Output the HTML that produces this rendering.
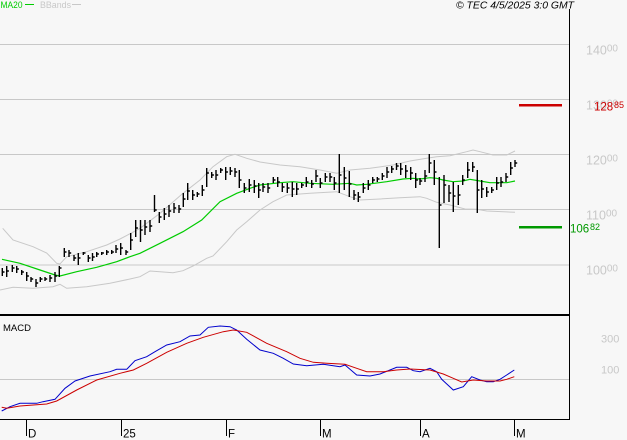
<!DOCTYPE html>
<html><head><meta charset="utf-8"><style>
html,body{margin:0;padding:0;background:#f7f7f7;}
svg{display:block;}
text{font-family:"Liberation Sans",sans-serif;}
</style></head><body>
<svg width="627" height="440" viewBox="0 0 627 440" xmlns="http://www.w3.org/2000/svg">
<rect x="0" y="0" width="627" height="440" fill="#f7f7f7"/>
<!-- grid -->
<g fill="#c8c8c8" shape-rendering="crispEdges">
<rect x="0" y="44" width="569" height="1"/>
<rect x="0" y="99" width="569" height="1"/>
<rect x="0" y="154" width="569" height="1"/>
<rect x="0" y="209" width="569" height="1"/>
<rect x="0" y="264.5" width="569" height="1"/>
<rect x="0" y="379" width="569" height="1"/>
</g>
<!-- bollinger bands -->
<g fill="none" stroke="#c8c8c8" stroke-width="1">
<polyline points="2.7,228.3 13,240 33,246.7 46.7,253 56.7,263.3 60,264 66.7,256.7 86.7,251.7 106.7,245 120,239 133.3,232 140,228.3 160,213.3 183,193.3 200,180 213,166.7 226.7,156.7 235,154.3 246.7,158.3 260,162 280,165 300,166.7 320,170 336.7,173.3 350,170 370,168.3 393,165 410,161 426.7,158.3 436.7,156.7 450,155.7 466.7,151.7 473,150 480,151.7 493,155 506.7,155 515,151"/>
<polyline points="0,290 13,287.3 33,288.3 53,286.7 60,284.3 66.7,288.3 86.7,286.7 110,283.3 130,279 140,276.7 150,271 160,271.7 173,272.7 183,270.7 193,266 206.7,258.3 213,256 226.7,241.7 236.7,230 246.7,221.7 260,210 273,201.7 280,198.3 286.7,195 310,193.3 336.7,191.7 350,196.7 360,200 380,199 400,197.7 420,196.7 426.7,198.3 436.7,202.3 450,205 465,209 476.7,209.3 486.7,211 515,212.3"/>
</g>
<!-- MA20 -->
<polyline fill="none" stroke="#00cc00" stroke-width="1.2" points="2,259.3 20,263.3 40,270 55,275 60,276 76.7,271.7 96.7,267.3 116.7,261.7 130,256.7 140,253.3 160,243.3 183,231.7 201.7,220 220,201.7 236.7,193.3 250,188.3 260,185 280,182.7 293,181.7 310,183.3 333,184.3 350,183.3 356.7,185 366.7,184.3 386.7,181.7 403,179 413,178.3 420,179 430,177.7 436.7,178.3 443,180 453,181.7 463,181 470,179.3 480,181 490,182.7 506.7,182.7 515,181"/>
<!-- price bars -->
<path fill="none" stroke="#000" stroke-width="1.4" d="M2.3 268V276M6.7 266V277M12.3 265V272M16.7 266V273M21.7 270V275M26.7 272V281M31 277V282M36 279V287M40.3 277V282M45 277V281M50 275V282M55 272V282M59.3 266V277M64.3 248V257M69 250V257M74 255V261M78.3 253V265M83.3 252V255M88.3 255V262M92.5 253V261M96.7 252V257M101.7 252V255M106.7 250V255M111.7 250V254M116 245V253M120.7 243V255M126 250V255M130.7 233V250M135.7 220V237M140.5 220V242M145 220V235M150 220V232M154.5 195V212M159.3 212V223M164.3 208V220M169 205V217M174 203V213M179 205V213M183.3 193V207M187.7 183V200M192.7 190V200M197.3 192V197M202.3 185V196M206.7 168V187M211.7 172V178M216 170V180M220.7 168V173M225.7 167V180M230.3 167V175M235 168V177M239.3 170V188M244.3 183V193M249.3 179V192M254.3 180V193M258.7 183V198M263 183V192M268 183V193M273.3 177V183M277.7 177V187M282.3 183V192M287.3 183V193M292.3 182V197M296.7 183V195M301.7 183V188M306.3 177V187M311.7 180V188M316 170V182M320.3 178V188M325.3 173V182M330 173V182M334.3 177V190M339.3 154V193M344.3 167V190M349.3 171V197M354 190V200M358.3 192V202M363.3 183V193M368.3 180V190M372.7 177V183M377.3 177V182M382.3 173V180M387 167V178M391.7 166V173M396.5 163V170M400.7 163V175M405.7 165V178M410.7 167V180M415.7 173V188M420 178V185M425 170V182M429.3 154V173M434.3 160V185M439.3 177V248M444 175V203M449 185V202M453.3 182V212M458.3 185V205M462.7 175V185M467.7 162V178M472.7 162V172M477.3 170V213M481.7 180V198M486.7 187V197M491.7 187V193M496.7 177V190M501 177V187M506 173V182M510.7 162V175M515 160V167"/>
<path fill="none" stroke="#000" stroke-width="1.4" d="M2.3 272h2.2M6.7 271h2.2M12.3 268h2.2M16.7 269h2.2M21.7 272h2.2M26.7 276h2.2M31 279h2.2M36 283h2.2M40.3 279h2.2M45 279h2.2M50 278h2.2M55 276h2.2M59.3 268h2.2M64.3 252h2.2M69 253h2.2M74 258h2.2M78.3 258h2.2M83.3 253h2.2M88.3 258h2.2M92.5 257h2.2M96.7 254h2.2M101.7 253h2.2M106.7 252h2.2M111.7 252h2.2M116 249h2.2M120.7 248h2.2M126 252h2.2M130.7 240h2.2M135.7 228h2.2M140.5 230h2.2M145 227h2.2M150 226h2.2M154.5 210h2.2M159.3 217h2.2M164.3 214h2.2M169 211h2.2M174 208h2.2M179 209h2.2M183.3 199h2.2M187.7 191h2.2M192.7 195h2.2M197.3 194h2.2M202.3 190h2.2M206.7 173h2.2M211.7 175h2.2M216 175h2.2M220.7 170h2.2M225.7 172h2.2M230.3 171h2.2M235 172h2.2M239.3 180h2.2M244.3 188h2.2M249.3 185h2.2M254.3 186h2.2M258.7 190h2.2M263 187h2.2M268 188h2.2M273.3 180h2.2M277.7 182h2.2M282.3 187h2.2M287.3 188h2.2M292.3 189h2.2M296.7 189h2.2M301.7 185h2.2M306.3 182h2.2M311.7 184h2.2M316 176h2.2M320.3 183h2.2M325.3 177h2.2M330 177h2.2M334.3 183h2.2M339.3 175h2.2M344.3 178h2.2M349.3 184h2.2M354 195h2.2M358.3 197h2.2M363.3 188h2.2M368.3 185h2.2M372.7 180h2.2M377.3 179h2.2M382.3 176h2.2M387 172h2.2M391.7 169h2.2M396.5 166h2.2M400.7 169h2.2M405.7 171h2.2M410.7 173h2.2M415.7 180h2.2M420 181h2.2M425 176h2.2M429.3 163h2.2M434.3 172h2.2M439.3 205h2.2M444 185h2.2M449 193h2.2M453.3 196h2.2M458.3 195h2.2M462.7 180h2.2M467.7 170h2.2M472.7 167h2.2M477.3 190h2.2M481.7 189h2.2M486.7 192h2.2M491.7 190h2.2M496.7 183h2.2M501 182h2.2M506 177h2.2M510.7 168h2.2M515 163h2.2"/>
<!-- target lines -->
<rect x="519" y="104" width="43" height="2.5" fill="#cc0000"/>
<rect x="519" y="226" width="43" height="2.5" fill="#009900"/>
<!-- MACD -->
<polyline fill="none" stroke="#0000cc" stroke-width="1" points="1.7,411 10,406.7 20,403.3 36.7,403.3 43,401.7 55,399.3 65,388.3 75,381 90,376 110,371.7 116.7,369.3 126.7,369.3 135,360.7 146.7,356.7 155,351.7 166.7,345 180,341.7 190,336 200,335 208.3,327.3 220,326 230,326.7 236.7,330 246.7,339.3 260,350 273.3,353.3 283.3,358.3 293.3,364 306.7,365.7 323.3,364.3 340,366.7 345,365 350,369.3 356.7,375 370,376 380,374 390,370 396.7,367.3 406.7,367.3 413.3,370.7 420,371.7 430,368.3 436.7,371.7 441.7,379.3 453.3,390 463.3,386.7 471.7,376.7 480,380 486.7,381.7 493.3,381.7 500,379.3 506.7,375 514.3,370"/>
<polyline fill="none" stroke="#cc0000" stroke-width="1" points="1.7,407.3 6.7,408.3 20,406 46.7,404 56.7,401 76.7,390 96.7,380 120,373.3 133.3,370 146.7,363.3 166.7,352.3 186.7,343.3 203.3,337.3 223.3,331.7 233.3,330 246.7,332.3 266.7,343.3 286.7,351.7 300,358.3 313.3,362.3 326.7,363.3 345,364.3 356.7,368.3 366.7,371.7 383.3,371.7 396.7,370 410,369 430,370 443.3,374 453.3,378.3 461.7,382 473.3,380 486.7,381 500,381 506.7,379.3 514.3,376.7"/>
<!-- frame -->
<g fill="#000" shape-rendering="crispEdges">
<rect x="569" y="9" width="1" height="411"/>
<rect x="0" y="314" width="569" height="2"/>
<rect x="0" y="419" width="570" height="1"/>
<rect x="26" y="419" width="1" height="17"/>
<rect x="121" y="419" width="1" height="17"/>
<rect x="226" y="419" width="1" height="17"/>
<rect x="320" y="419" width="1" height="17"/>
<rect x="420" y="419" width="1" height="17"/>
<rect x="514" y="419" width="1" height="17"/>
</g>
<!-- x labels -->
<g font-size="11.5" fill="#000">
<text x="28" y="437.5">D</text>
<text x="123" y="437.5">25</text>
<text x="228" y="437.5">F</text>
<text x="322" y="437.5">M</text>
<text x="422" y="437.5">A</text>
<text x="516" y="437.5">M</text>
</g>
<!-- price labels -->
<g fill="#c8c8c8">
<text x="586" y="54.5" font-size="12.5">140<tspan font-size="10" dy="-3">00</tspan></text>
<text x="586" y="109.5" font-size="12.5">130<tspan font-size="10" dy="-3">00</tspan></text>
<text x="586" y="164.5" font-size="12.5">120<tspan font-size="10" dy="-3">00</tspan></text>
<text x="586" y="219.5" font-size="12.5">110<tspan font-size="10" dy="-3">00</tspan></text>
<text x="586" y="274.5" font-size="12.5">100<tspan font-size="10" dy="-3">00</tspan></text>
<text x="601" y="342.7" font-size="11">300</text>
<text x="601" y="373.3" font-size="11">100</text>
</g>
<text x="594" y="110.7" font-size="11.5" fill="#cc0000">128<tspan x="614" font-size="9" dy="-2.5">85</tspan></text>
<text x="570" y="232.7" font-size="11.5" fill="#009900">106<tspan x="590" font-size="9" dy="-2.5">82</tspan></text>
<!-- legends -->
<text x="0.5" y="8" font-size="9" fill="#00cc00" textLength="22" lengthAdjust="spacingAndGlyphs">MA20</text>
<rect x="25" y="4" width="9" height="1" fill="#00cc00"/>
<text x="40" y="8" font-size="9" fill="#c8c8c8" textLength="31" lengthAdjust="spacingAndGlyphs">BBands</text>
<rect x="72" y="4" width="9" height="1" fill="#c8c8c8"/>
<text x="456" y="8.5" font-size="10.4" font-style="italic" fill="#000" textLength="118" lengthAdjust="spacingAndGlyphs">© TEC 4/5/2025 3:0 GMT</text>
<text x="3" y="331" font-size="9.5" fill="#000" textLength="28" lengthAdjust="spacingAndGlyphs">MACD</text>
</svg>
</body></html>
